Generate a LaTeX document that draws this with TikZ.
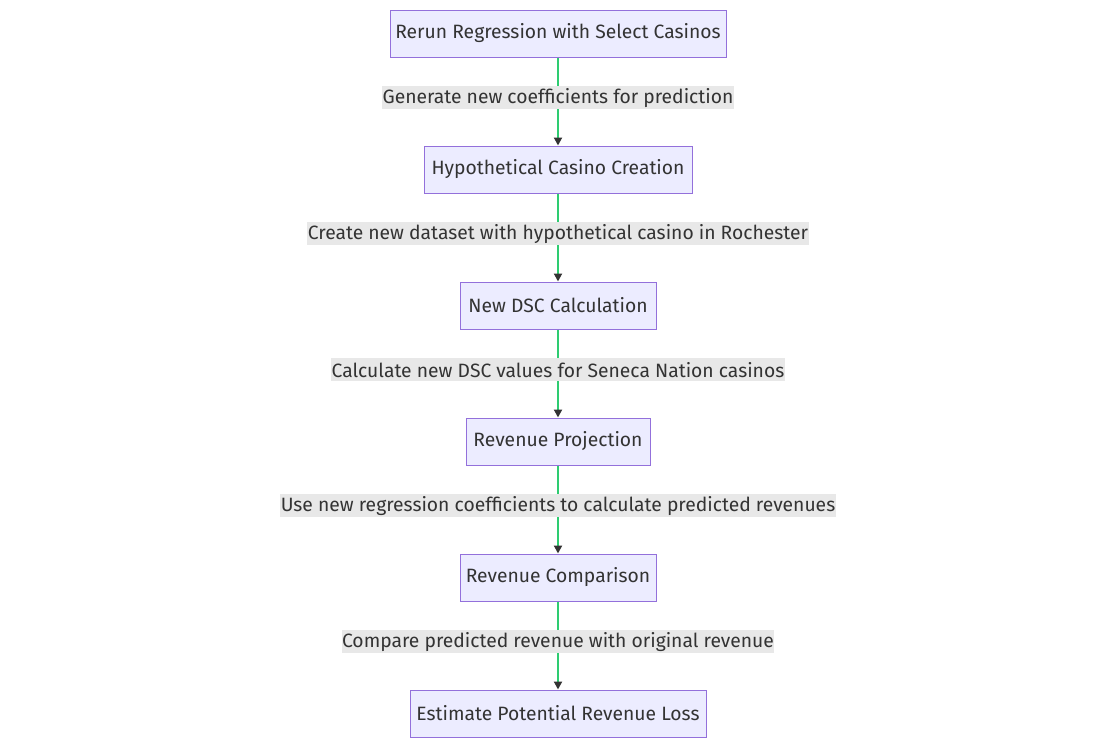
\documentclass[tikz,border=0pt]{standalone}
\usepackage{fontspec}
\setmainfont{Fira Sans}
\usetikzlibrary{arrows.meta}
\definecolor{boxfill}{HTML}{ECECFF}
\definecolor{boxline}{HTML}{9370DB}
\definecolor{edgegreen}{HTML}{2ECC71}
\definecolor{lblbg}{HTML}{E8E8E8}
\definecolor{txt}{HTML}{333333}
\tikzset{
  box/.style={draw=boxline, fill=boxfill, line width=1pt, minimum height=47pt, inner sep=0pt, text=txt, font=\fontsize{19.3}{22}\selectfont},
  edge/.style={draw=edgegreen, line width=2pt, -{Triangle[color=txt, length=8pt, width=8pt]}},
  lbl/.style={fill=lblbg, text=txt, inner sep=0.5pt, minimum height=23pt, font=\fontsize{19.3}{22}\selectfont}
}
\begin{document}
\begin{tikzpicture}[x=1pt,y=-1pt]
\useasboundingbox (0,0) rectangle (1116,747);
\node[box, minimum width=336pt] (n1) at (558,33.5) {Rerun Regression with Select Casinos};
\node[box, minimum width=268pt] (n2) at (558,169.5) {Hypothetical Casino Creation};
\node[box, minimum width=196pt] (n3) at (558,305.5) {New DSC Calculation};
\node[box, minimum width=184pt] (n4) at (558,441.5) {Revenue Projection};
\node[box, minimum width=196pt] (n5) at (558,577.5) {Revenue Comparison};
\node[box, minimum width=296pt] (n6) at (558,713.5) {Estimate Potential Revenue Loss};
\draw[edge] (n1) -- node[lbl, pos=0.46] {Generate new coefficients for prediction} (n2);
\draw[edge] (n2) -- node[lbl, pos=0.46] {Create new dataset with hypothetical casino in Rochester} (n3);
\draw[edge] (n3) -- node[lbl, pos=0.46] {Calculate new DSC values for Seneca Nation casinos} (n4);
\draw[edge] (n4) -- node[lbl, pos=0.46] {Use new regression coefficients to calculate predicted revenues} (n5);
\draw[edge] (n5) -- node[lbl, pos=0.46] {Compare predicted revenue with original revenue} (n6);
\end{tikzpicture}
\end{document}
